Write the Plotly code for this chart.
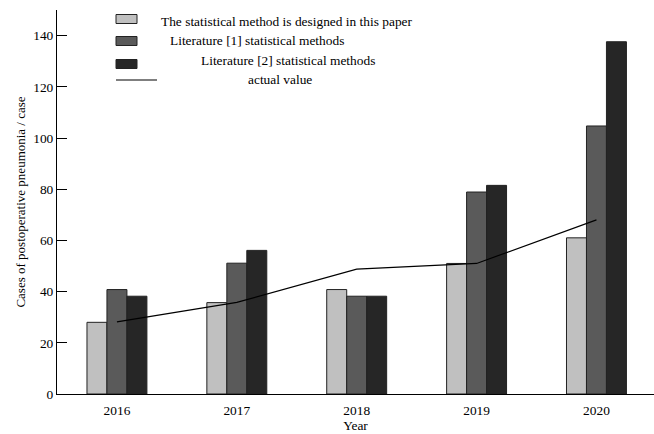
import plotly.graph_objects as go

years = ["2016", "2017", "2018", "2019", "2020"]
this_paper = [28, 35.7, 40.8, 51, 61]
lit1 = [40.8, 51.1, 38.2, 78.9, 104.7]
lit2 = [38.2, 56.1, 38.2, 81.5, 137.6]
actual = [28.2, 35.8, 48.8, 51.0, 68.0]

series_names = [
    "The statistical method is designed in this paper",
    "Literature [1] statistical methods",
    "Literature [2] statistical methods",
    "actual value",
]
colors = ["#c0c0c0", "#5a5a5a", "#262626"]
font_family = "Liberation Serif, Times New Roman, serif"

fig = go.Figure()
for vals, col, name in zip([this_paper, lit1, lit2], colors, series_names[:3]):
    fig.add_trace(go.Bar(x=years, y=vals, name=name, marker=dict(color=col, line=dict(color="#222222", width=1)),
                         showlegend=False))
fig.add_trace(go.Scatter(x=years, y=actual, mode="lines", name=series_names[3],
                         line=dict(color="black", width=1.2), showlegend=False))

# manual legend (to mimic the reference's layout)
W, H = 654, 434
L, R, T, B = 57, 0, 10, 40
pw, ph = W - L - R, H - T - B

def px_to_paper(x, y):
    return (x - L) / pw, 1 - (y - T) / ph

rows_y = [19, 41, 64]
text_x = [160, 169, 200, 247]
text_y = [21, 41, 60, 80]
for i, (yy, col) in enumerate(zip(rows_y, colors)):
    x0, y0 = px_to_paper(116, yy - 4.5)
    x1, y1 = px_to_paper(137, yy + 4.5)
    fig.add_shape(type="rect", xref="paper", yref="paper", x0=x0, x1=x1, y0=y1, y1=y0,
                  fillcolor=col, line=dict(color="#222222", width=1))
lx0, ly = px_to_paper(116, 80)
lx1, _ = px_to_paper(157, 80)
fig.add_shape(type="line", xref="paper", yref="paper", x0=lx0, x1=lx1, y0=ly, y1=ly,
              line=dict(color="black", width=1.2))
for name, tx, ty in zip(series_names, text_x, text_y):
    ax, ay = px_to_paper(tx, ty)
    fig.add_annotation(x=ax, y=ay, xref="paper", yref="paper", text=name, showarrow=False,
                       xanchor="left", yanchor="middle", xshift=-1,
                       font=dict(size=13.4, color="black", family=font_family))

fig.update_layout(
    width=W, height=H,
    margin=dict(l=L, r=R, t=T, b=B),
    paper_bgcolor="white", plot_bgcolor="white",
    barmode="group", bargap=0.5, bargroupgap=0,
    font=dict(family=font_family, size=13.4, color="black"),
)
fig.update_xaxes(type="category", range=[-0.5, 4.48], showline=True, linecolor="black", linewidth=1,
                 ticks="", showgrid=False, zeroline=False, ticklabelstandoff=4,
                 title=dict(text="Year", standoff=2, font=dict(size=13.4)))
fig.update_yaxes(range=[0, 150], tickvals=[0, 20, 40, 60, 80, 100, 120, 140], showline=True,
                 linecolor="black", linewidth=1, ticks="inside", ticklen=10, tickcolor="black",
                 showgrid=False, zeroline=False,
                 title=dict(text="Cases of postoperative pneumonia / case", standoff=4, font=dict(size=13)))

fig.write_html("out.html")
